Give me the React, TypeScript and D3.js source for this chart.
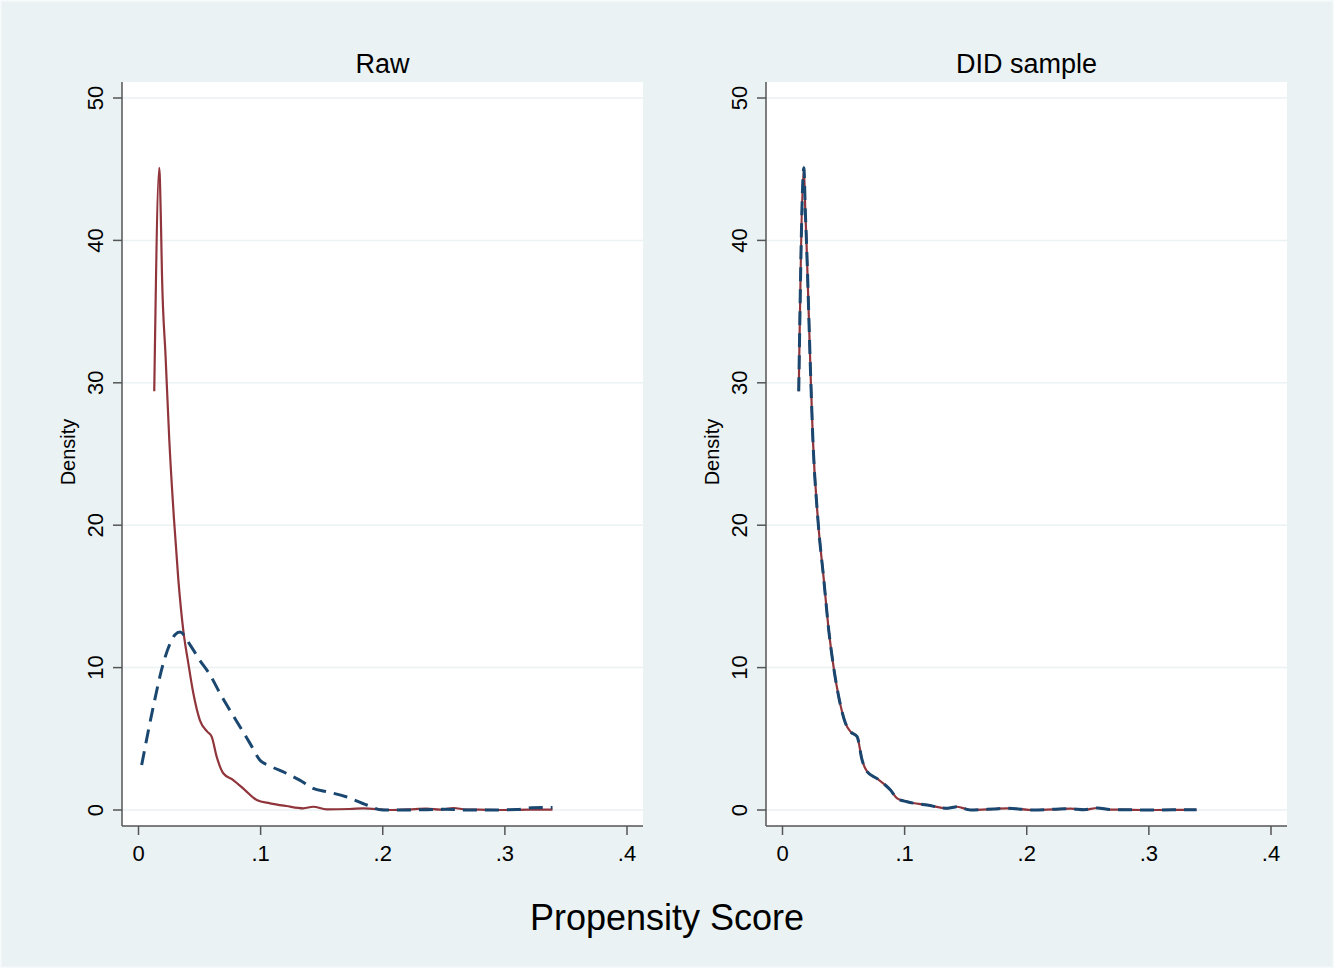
import * as d3 from "d3";

// density estimates: [propensity score, density]
const rawSolid: [number, number][] = [
  [0.0129, 29.4], [0.017, 45.1], [0.0182, 42], [0.0192, 37.7], [0.0222, 31.8],
  [0.0252, 26.0], [0.029, 20.5], [0.0326, 16.2], [0.0367, 12.6], [0.0408, 10.3],
  [0.0449, 8.2], [0.0503, 6.3], [0.0563, 5.5], [0.0599, 5.15], [0.064, 3.75],
  [0.0694, 2.58], [0.0776, 2.1], [0.0872, 1.4], [0.0968, 0.7], [0.1077, 0.47],
  [0.121, 0.28], [0.135, 0.12], [0.143, 0.23], [0.154, 0.05], [0.173, 0.07],
  [0.184, 0.12], [0.206, 0.0], [0.222, 0.05], [0.236, 0.09], [0.247, 0.02],
  [0.258, 0.14], [0.268, 0.03], [0.279, 0.02], [0.3, 0.0], [0.32, 0.03], [0.339, 0.02],
];

const rawDashed: [number, number][] = [
  [0.0026, 3.16], [0.0121, 7.25], [0.0203, 10.3], [0.0299, 12.3], [0.034, 12.5],
  [0.0422, 11.6], [0.0503, 10.5], [0.0585, 9.5], [0.0667, 8.2], [0.0749, 7.0],
  [0.0831, 5.85], [0.0913, 4.68], [0.0995, 3.5], [0.1077, 3.09], [0.121, 2.58],
  [0.132, 2.1], [0.143, 1.52], [0.154, 1.29], [0.17, 0.93], [0.187, 0.35],
  [0.2, 0.0], [0.222, 0.0], [0.25, 0.05], [0.27, 0.0], [0.29, 0.0], [0.31, 0.03],
  [0.322, 0.16], [0.339, 0.18],
];

const didSolid: [number, number][] = [
  [0.0133, 29.4], [0.0175, 45.1], [0.0187, 42], [0.0196, 40.0], [0.0229, 30.9],
  [0.0248, 26.2], [0.029, 20.4], [0.0338, 16.2], [0.0379, 12.6], [0.042, 9.95],
  [0.046, 7.96], [0.0516, 6.09], [0.0557, 5.5], [0.0611, 5.15], [0.0652, 3.5],
  [0.0693, 2.69], [0.0775, 2.2], [0.0884, 1.4], [0.0939, 0.82], [0.102, 0.58],
  [0.1185, 0.35], [0.135, 0.12], [0.143, 0.23], [0.154, 0.0], [0.173, 0.07],
  [0.184, 0.12], [0.206, 0.0], [0.222, 0.05], [0.236, 0.09], [0.247, 0.02],
  [0.258, 0.14], [0.268, 0.03], [0.279, 0.02], [0.3, 0.0], [0.32, 0.01], [0.339, 0.01],
];
// in the matched sample both groups lie on top of each other
const didDashed = didSolid;

const panelTitles = ["Raw", "DID sample"];
const xTicks = [0, 0.1, 0.2, 0.3, 0.4];
const xTickLabels = ["0", ".1", ".2", ".3", ".4"];
const yTicks = [0, 10, 20, 30, 40, 50];

const W = 1334;
const H = 968;
const bg = "#eaf2f3";
const red = "#90353b";
const navy = "#1a476f";
const font = "'Liberation Sans', Arial, Helvetica, sans-serif";

const Panel = ({ left, title, solid, dashed }: any) => {
  const plotL = left;
  const plotR = left + 521;
  const plotT = 82;
  const plotB = 826;

  const x = d3.scaleLinear().domain([0, 0.4]).range([left + 16.5, left + 505]);
  const y = d3.scaleLinear().domain([0, 50]).range([810, 98]);

  const line = d3
    .line<[number, number]>()
    .x((d) => x(d[0]))
    .y((d) => y(d[1]))
    .curve(d3.curveMonotoneX);

  return (
    <g>
      <rect x={plotL} y={plotT} width={plotR - plotL} height={plotB - plotT} fill="#fff" />
      {yTicks.map((t) => (
        <line key={"g" + t} x1={plotL} x2={plotR} y1={y(t)} y2={y(t)} stroke={bg} strokeWidth={1.5} />
      ))}
      <path d={line(solid) || ""} fill="none" stroke={red} strokeWidth={2.2} />
      <path d={line(dashed) || ""} fill="none" stroke={navy} strokeWidth={3} strokeDasharray="14 8" />
      {/* axes */}
      <line x1={plotL} x2={plotL} y1={plotT} y2={plotB} stroke="#555" strokeWidth={1.5} />
      <line x1={plotL} x2={plotR} y1={plotB} y2={plotB} stroke="#555" strokeWidth={1.5} />
      {yTicks.map((t) => (
        <g key={"y" + t}>
          <line x1={plotL - 9} x2={plotL} y1={y(t)} y2={y(t)} stroke="#555" strokeWidth={1.5} />
          <text
            transform={`translate(${plotL - 19},${y(t)}) rotate(-90)`}
            textAnchor="middle"
            fontSize={22}
            fontFamily={font}
            fill="#000"
          >
            {t}
          </text>
        </g>
      ))}
      {xTicks.map((t, i) => (
        <g key={"x" + t}>
          <line x1={x(t)} x2={x(t)} y1={plotB} y2={plotB + 9} stroke="#555" strokeWidth={1.5} />
          <text x={x(t)} y={861} textAnchor="middle" fontSize={22} fontFamily={font} fill="#000">
            {xTickLabels[i]}
          </text>
        </g>
      ))}
      <text
        transform={`translate(${plotL - 47},${452}) rotate(-90)`}
        textAnchor="middle"
        fontSize={20}
        fontFamily={font}
        fill="#000"
      >
        Density
      </text>
      <text x={(plotL + plotR) / 2} y={73} textAnchor="middle" fontSize={27} fontFamily={font} fill="#000">
        {title}
      </text>
    </g>
  );
};

export default function App() {
  return (
    <svg width={W} height={H} style={{ position: "absolute", left: 0, top: 0 }}>
      <rect x={0} y={0} width={W} height={H} fill={bg} />
      <rect x={0.5} y={0.5} width={W - 1} height={H - 1} fill="none" stroke="#f7fafa" strokeWidth={2} />
      <Panel left={122} title={panelTitles[0]} solid={rawSolid} dashed={rawDashed} />
      <Panel left={766} title={panelTitles[1]} solid={didSolid} dashed={didDashed} />
      <text x={667} y={930} textAnchor="middle" fontSize={36} fontFamily={font} fill="#000">
        Propensity Score
      </text>
    </svg>
  );
}
